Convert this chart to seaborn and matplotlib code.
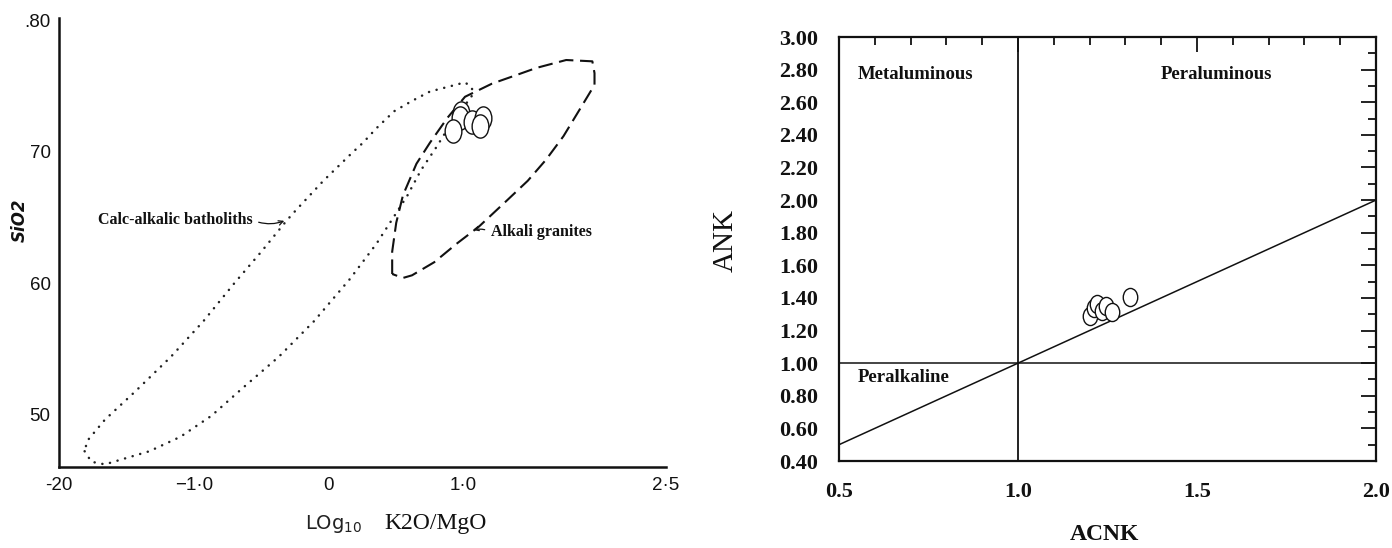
import numpy as np
import pandas as pd
import seaborn as sns
import matplotlib
matplotlib.use("Agg")
import matplotlib.pyplot as plt
from matplotlib.path import Path
from matplotlib.transforms import Affine2D
from matplotlib.ticker import MultipleLocator, FixedLocator

# ---------------- data: SiO2 vs log10(K2O/MgO) ----------------
# Calc-alkalic batholith field outline (log K2O/MgO, SiO2)
calc_x = [-1.81, -1.76, -1.66, -1.33, -1.10, -0.87, -0.64, -0.37, -0.11, 0.155,
          0.353, 0.485, 0.584, 0.683, 0.80, 0.914, 1.013, 1.07, 1.06, 1.01,
          0.90, 0.75, 0.62, 0.485, 0.353, 0.254, 0.17, -0.04, -0.14, -0.24,
          -0.31, -0.50, -0.70, -0.93, -1.17, -1.43, -1.66, -1.79, -1.81]
calc_y = [47.2, 46.4, 46.2, 47.2, 48.3, 49.9, 52.0, 54.4, 57.1, 60.3,
          63.0, 65.1, 66.7, 68.6, 70.4, 72.3, 73.6, 74.4, 74.9, 75.3,
          75.0, 74.6, 73.9, 73.1, 71.8, 70.7, 69.9, 67.8, 66.7, 65.6,
          64.8, 62.4, 60.0, 57.1, 54.4, 51.8, 49.6, 48.0, 47.2]

# Alkali granite field outline
alk_x = [0.47, 0.47, 0.50, 0.55, 0.65, 0.75, 0.88, 1.01, 1.21, 1.376, 1.54,
         1.76, 1.954, 1.97, 1.97, 1.87, 1.74, 1.61, 1.475, 1.31, 1.112, 0.947,
         0.782, 0.617, 0.55, 0.47]
alk_y = [60.7, 62.4, 64.6, 66.7, 69.1, 70.7, 72.6, 74.2, 75.2, 75.8, 76.4,
         77.0, 76.9, 76.0, 75.1, 73.4, 71.2, 69.4, 67.8, 66.2, 64.3, 63.0,
         61.6, 60.6, 60.4, 60.7]

# Samples
sample_logk = [0.98, 0.97, 1.06, 1.14, 1.12, 0.92]
sample_sio2 = [73.0, 72.6, 72.3, 72.6, 72.0, 71.6]

k_ticks = [-2.0, -1.0, 0.0, 1.0, 2.5]
k_labels = ["-20", "\u22121\u00b70", "0", "1\u00b70", "2\u00b75"]
si_ticks = [50, 60, 70, 80]
si_labels = ["50", "60", "70", ".80"]

# ---------------- data: ANK vs ACNK ----------------
acnk = [1.200, 1.213, 1.221, 1.234, 1.246, 1.262, 1.314]
ank = [1.288, 1.341, 1.363, 1.320, 1.352, 1.313, 1.406]
equal_line = [0.5, 2.0]          # ANK = ACNK boundary
boundary_value = 1.0             # ACNK = 1 and ANK = 1

sns.set_theme(style="white")
plt.rcParams["font.family"] = ["DejaVu Sans"]

W, H = 1392, 548
fig = plt.figure(figsize=(W / 100, H / 100), dpi=100)
fig.patch.set_facecolor("white")


def box(l, t, r, b):
    return [l / W, 1 - b / H, (r - l) / W, (b - t) / H]


# ---------------- left panel ----------------
ax1 = fig.add_axes(box(59, 18, 666, 467))
ax1.set_facecolor("white")

sns.lineplot(x=calc_x, y=calc_y, sort=False, estimator=None, ax=ax1,
             color="#222222", lw=1.8, linestyle=(0, (0.05, 3.1)),
             dash_capstyle="round")
sns.lineplot(x=alk_x, y=alk_y, sort=False, estimator=None, ax=ax1,
             color="#111111", lw=1.5, linestyle=(0, (7, 3.2)))

ell_tall = Path.unit_circle().transformed(Affine2D().scale(0.72, 1.0))
sns.scatterplot(x=sample_logk, y=sample_sio2, ax=ax1, marker=ell_tall, s=280,
                color="white", edgecolor="#111111", linewidth=1.0, zorder=5)

ax1.set_xlim(-2.0, 2.5)
ax1.set_ylim(46.0, 80.2)
for side in ("top", "right"):
    ax1.spines[side].set_visible(False)
for side in ("left", "bottom"):
    ax1.spines[side].set_linewidth(1.8)
    ax1.spines[side].set_color("#111111")

ax1.set_xticks(k_ticks)
ax1.set_xticklabels(k_labels)
ax1.set_yticks(si_ticks)
ax1.set_yticklabels(si_labels)
ax1.tick_params(axis="x", direction="in", length=7, width=1.3, pad=7,
                colors="#111111", labelsize=13.5)
ax1.tick_params(axis="y", direction="in", length=9, width=1.3, pad=6,
                colors="#111111", labelsize=13.5)
for lab in ax1.get_xticklabels() + ax1.get_yticklabels():
    lab.set_fontfamily("Liberation Sans")
ax1.set_xlabel("")
ax1.set_ylabel("")

note_kw = dict(fontfamily="Liberation Serif", fontweight="bold", fontsize=11.5,
               color="#111111", va="center", ha="left")
ax1.annotate("Calc-alkalic batholiths", xy=(-0.33, 64.75), xytext=(-1.71, 64.8),
             arrowprops=dict(arrowstyle="->", lw=0.9, color="#111111",
                             connectionstyle="arc3,rad=0.2", relpos=(1.0, 0.5),
                             shrinkA=2, shrinkB=0, mutation_scale=8),
             **note_kw)
ax1.annotate("Alkali granites", xy=(1.07, 64.05), xytext=(1.20, 63.9),
             arrowprops=dict(arrowstyle="->", lw=0.9, color="#111111",
                             connectionstyle="arc3,rad=0.2", relpos=(0.0, 0.5),
                             shrinkA=2, shrinkB=0, mutation_scale=8),
             **note_kw)

fig.text(20 / W, 1 - 220 / H, "SiO2", rotation=90, ha="center", va="center",
         fontsize=12, fontweight="bold", fontstyle="italic", color="#111111",
         family="DejaVu Sans")
fig.text(305 / W, 1 - 529 / H, "LOg$_{10}$", ha="left", va="baseline",
         fontsize=14, color="#222222", family="DejaVu Sans")
fig.text(384 / W, 1 - 529 / H, "K2O/MgO", ha="left", va="baseline",
         fontsize=17, color="#111111", family="Liberation Serif")

# ---------------- right panel ----------------
ax2 = fig.add_axes(box(839, 37, 1376, 461))
ax2.set_facecolor("white")

sns.lineplot(x=equal_line, y=equal_line, ax=ax2, color="#111111", lw=1.1,
             estimator=None, sort=False)
ax2.axvline(boundary_value, color="#111111", lw=1.3)
ax2.axhline(boundary_value, color="#111111", lw=1.1)

ell_round = Path.unit_circle().transformed(Affine2D().scale(0.8, 1.0))
sns.scatterplot(x=acnk, y=ank, ax=ax2, marker=ell_round, s=170,
                color="white", edgecolor="#111111", linewidth=1.0, zorder=5)

ax2.set_xlim(0.5, 2.0)
ax2.set_ylim(0.4, 3.0)
for side in ax2.spines.values():
    side.set_linewidth(1.6)
    side.set_color("#111111")

ax2.xaxis.set_major_locator(FixedLocator([0.5, 1.0, 1.5, 2.0]))
ax2.xaxis.set_minor_locator(MultipleLocator(0.1))
ax2.yaxis.set_major_locator(FixedLocator(np.round(np.arange(0.4, 3.01, 0.2), 2)))
ax2.yaxis.set_minor_locator(MultipleLocator(0.1))
ax2.set_xticklabels([f"{v:.1f}" for v in [0.5, 1.0, 1.5, 2.0]])
ax2.set_yticklabels([f"{v:.2f}" for v in np.arange(0.4, 3.01, 0.2)])
ax2.tick_params(which="both", direction="in", top=True, right=True,
                colors="#111111", width=1.3)
ax2.tick_params(which="major", length=11, pad=15, labelsize=16)
ax2.tick_params(which="minor", length=6)
for lab in ax2.get_xticklabels() + ax2.get_yticklabels():
    lab.set_fontfamily("Liberation Serif")
    lab.set_fontweight("bold")
ax2.set_xlabel("")
ax2.set_ylabel("")

zone_kw = dict(fontfamily="Liberation Serif", fontweight="bold", fontsize=13.5,
               color="#111111", ha="left", va="center")
ax2.text(0.553, 2.77, "Metaluminous", **zone_kw)
ax2.text(1.40, 2.77, "Peraluminous", **zone_kw)
ax2.text(0.553, 0.915, "Peralkaline", **zone_kw)

fig.text(726 / W, 1 - 241 / H, "ANK", rotation=90, ha="center", va="center",
         fontsize=21, color="#111111", family="Liberation Serif")
fig.text(1104 / W, 1 - 535 / H, "ACNK", ha="center", va="center",
         fontsize=17, fontweight="bold", color="#111111",
         family="Liberation Serif")

fig.savefig("out.png", dpi=100, facecolor="white")
